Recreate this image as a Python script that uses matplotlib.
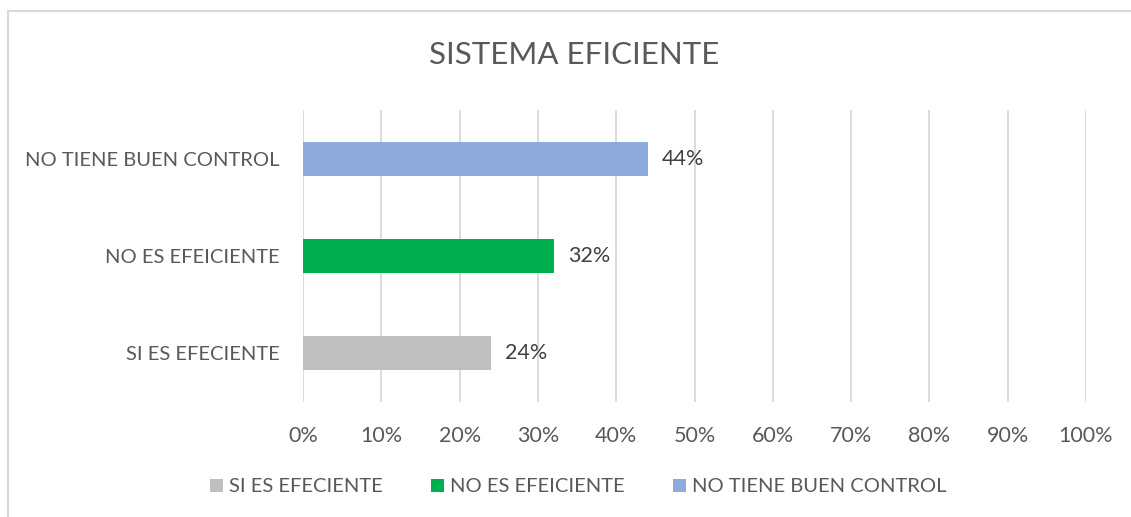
import matplotlib
matplotlib.use("Agg")
import matplotlib.pyplot as plt
from matplotlib.lines import Line2D
from matplotlib.patches import Patch

categories = ["SI ES EFECIENTE", "NO ES EFEICIENTE", "NO TIENE BUEN CONTROL"]
values = [0.24, 0.32, 0.44]
colors = ["#BFBFBF", "#00B050", "#8FAADC"]
xticks = [0, 0.1, 0.2, 0.3, 0.4, 0.5, 0.6, 0.7, 0.8, 0.9, 1.0]
title = "SISTEMA EFICIENTE"

plt.rcParams['font.family'] = ['Lato', 'DejaVu Sans']
txt = "#595959"

W, H = 1131, 517
fig = plt.figure(figsize=(W / 100, H / 100), dpi=100)
ax = fig.add_axes([303 / W, 1 - 402 / H, (1086 - 303) / W, (402 - 110) / H])

y = list(range(len(categories)))
bars = ax.barh(y, values, height=0.35, color=colors, zorder=3)
ax.set_xlim(0, 1.0)
ax.set_ylim(-0.5, len(categories) - 0.5)
ax.set_xticks(xticks)
ax.set_xticklabels([f"{int(round(t*100))}%" for t in xticks], fontsize=15.5, color=txt)
ax.set_yticks(y)
ax.set_yticklabels(categories, fontsize=14.5, color=txt)
ax.tick_params(axis='both', length=0)
ax.tick_params(axis='x', pad=17)
ax.tick_params(axis='y', pad=17)
ax.grid(axis='x', color="#D9D9D9", linewidth=1.3, zorder=0)
for s in ax.spines.values():
    s.set_visible(False)

for yi, v in zip(y, values):
    ax.text(v + 0.018, yi, f"{int(round(v*100))}%", va='center', ha='left',
            fontsize=15.5, color="#404040")

fig.text(574 / W, 1 - 55 / H, title, ha='center', va='center', fontsize=22.5, color=txt)

handles = [Patch(facecolor=c, edgecolor='none') for c in colors]
fig.legend(handles, categories, loc='center', bbox_to_anchor=(578 / W, 1 - 487 / H),
           ncol=3, frameon=False, fontsize=14.5, labelcolor=txt,
           handlelength=0.65, handleheight=0.65, handletextpad=0.3, columnspacing=2.4)

# partial chart border (left and top)
fig.add_artist(Line2D([8 / W, 8 / W], [0, 1 - 11 / H], transform=fig.transFigure,
                      color="#D9D9D9", linewidth=1.5))
fig.add_artist(Line2D([8 / W, 1], [1 - 11 / H, 1 - 11 / H], transform=fig.transFigure,
                      color="#D9D9D9", linewidth=1.5))

fig.savefig("out.png", dpi=100, facecolor="white")
